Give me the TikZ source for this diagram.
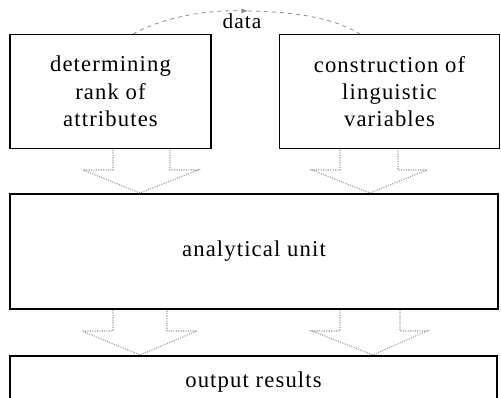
\documentclass[tikz,border=0pt]{standalone}
\usepackage{fontspec}
\setmainfont{Liberation Serif}[LetterSpace=5]
\usetikzlibrary{arrows.meta}

\tikzset{every picture/.style={line width=0.75pt}}
\tikzset{
	unitbox/.style={draw=black, line width=1.1pt, inner sep=0pt, align=center,
		font=\fontsize{17}{20.5}\selectfont},
	blockarrow/.style={draw={rgb, 255:red, 150; green, 150; blue, 150}, densely dotted, line width=0.8pt},
	datalink/.style={draw={rgb, 255:red, 140; green, 140; blue, 140}, dashed, line width=0.6pt}}

\begin{document}
\begin{tikzpicture}[x=0.75pt,y=0.75pt,yscale=-1,xscale=1]
	\clip (0,0) rectangle (501,398);

	% Boxes
	\node [unitbox, minimum width=201*0.75pt, minimum height=114*0.75pt] (rank) at (110.5,91.5) {determining\\rank of\\attributes};
	\node [unitbox, minimum width=220*0.75pt, minimum height=114*0.75pt] (ling) at (389.5,91.5) {construction of\\linguistic\\variables};
	\node [unitbox, minimum width=488*0.75pt, minimum height=115*0.75pt] (anal) at (254,251.5) {analytical unit};
	\node [unitbox, minimum width=487*0.75pt, minimum height=52*0.75pt] (outp) at (253.5,382) {output results};

	% data link
	\node [font=\fontsize{16}{18}\selectfont] (data) at (242,21) {data};
	\coordinate (apex) at (248,11);
	\draw [datalink, -{Latex[length=5pt]}] (133,34) .. controls (170,14) and (215,10) .. (apex);
	\draw [datalink] (apex) .. controls (290,12) and (330,16) .. (360,34);

	%Down Arrow
	\draw [blockarrow] (113,150) -- (113,170) -- (83,170) -- (140,193) -- (198,170) -- (170,170) -- (170,150) ;
	%Down Arrow
	\draw [blockarrow] (340,150) -- (340,170) -- (312,170) -- (370,193) -- (427,170) -- (398,170) -- (398,150) ;
	%Down Arrow
	\draw [blockarrow] (113,310) -- (113,331) -- (82,331) -- (140,355) -- (197,331) -- (167,331) -- (167,310) ;
	%Down Arrow
	\draw [blockarrow] (340,310) -- (340,331) -- (312,331) -- (373,355) -- (427,331) -- (400,331) -- (400,310) ;

\end{tikzpicture}
\end{document}
